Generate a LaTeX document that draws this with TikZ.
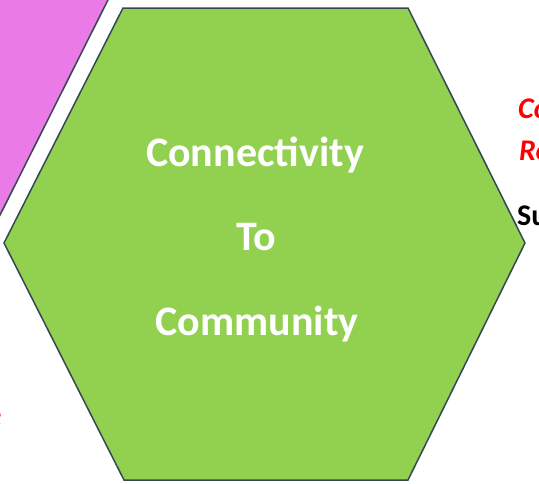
\documentclass[tikz,border=0pt]{standalone}
\usepackage{fontspec}
\setmainfont{Carlito}

\definecolor{hexgreen}{RGB}{146,208,80}
\definecolor{hexpink}{RGB}{234,122,229}
\definecolor{hexline}{RGB}{52,72,84}

\tikzset{
    hexlabel/.style={text=white, font=\fontsize{42}{50}\selectfont\bfseries, anchor=base, inner sep=0pt},
    sidelabel/.style={font=\fontsize{30}{36}\selectfont\bfseries\itshape, anchor=base west, inner sep=0pt, text=red},
}

\begin{document}
\begin{tikzpicture}[x=1pt, y=-1pt]

    \useasboundingbox (0,0) rectangle (539,483);

    % neighbour hexagon, only its corner shows
    \draw[fill=hexpink, draw=hexline, line width=1.5pt] (-12,-12) -- (114,-12) -- (-6,227) -- (-12,227) -- cycle;

    % main hexagon
    \draw[fill=hexgreen, draw=hexline, line width=1.5pt] (123,8) -- (408,8) -- (525,243) -- (408,480) -- (124,480) -- (4,243) -- cycle;

    \node[hexlabel] (conn) at (255,166) {Connectivity};
    \node[hexlabel] (to)   at (256,250) {To};
    \node[hexlabel] (comm) at (257,335) {Community};

    % labels of the next shape, cut off at the right
    \node[sidelabel] (co) at (518,118) {Co};
    \node[sidelabel] (re) at (519,160) {Re};
    \node[sidelabel, text=black, font=\fontsize{30}{36}\selectfont\bfseries] (su) at (517,225) {Su};

    % end of a label at the left
    \node[sidelabel, anchor=base east] (lt) at (1.5,426) {e};

\end{tikzpicture}
\end{document}
